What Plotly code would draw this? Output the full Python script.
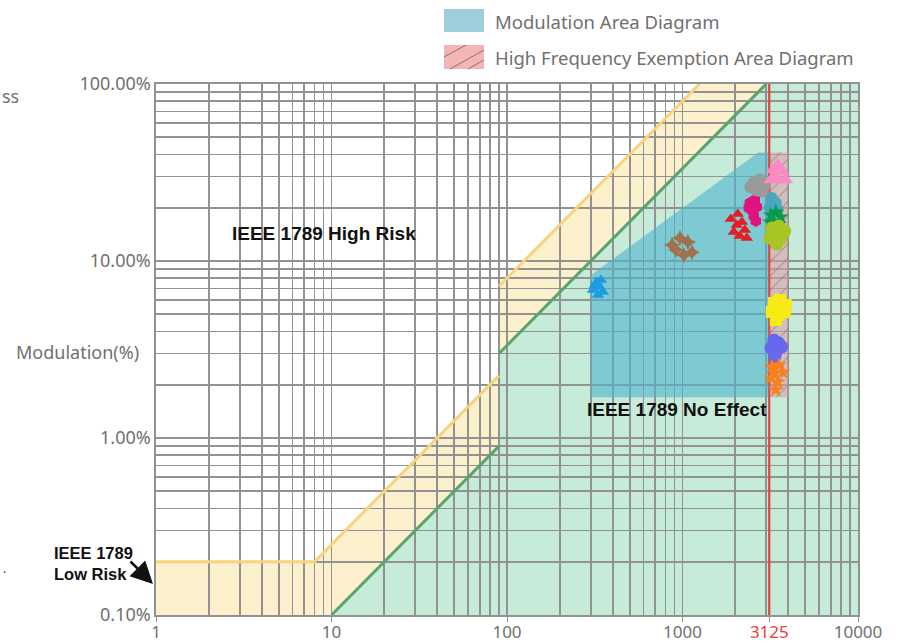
import plotly.graph_objects as go

# ---------------- data ----------------
# IEEE 1789 boundaries (frequency in Hz, modulation in %)
low_risk_freq = [1, 8, 90, 90, 1250]
low_risk_mod = [0.2, 0.2, 2.25, 7.2, 100]
no_effect_freq = [10, 90, 90, 3000]
no_effect_mod = [0.1, 0.9, 3.0, 100]

exempt_freq = 3125  # high-frequency exemption threshold

# Modulation area diagram (blue) and HF exemption area (hatched)
mod_area_freq = [300, 3125, 3125, 2700, 300]
mod_area_mod = [1.7, 1.7, 41, 41, 8.3]
hf_area_freq = [3125, 4000, 4000, 3125]
hf_area_mod = [1.7, 1.7, 41, 41]

# measured samples (frequency Hz, modulation %)
blue_freq = [309, 325, 338, 352, 330, 317, 343]
blue_mod = [6.86, 7.61, 7.13, 6.68, 6.43, 7.32, 7.81]
brown_freq = [871, 918, 967, 1019, 1074, 1132]
brown_mod = [12.3, 11.54, 13.49, 10.81, 12.8, 11.2]
red_freq = [1885, 2039, 2178, 2266, 2121, 1960, 2325, 2065]
red_mod = [17.28, 15.97, 16.6, 14.97, 13.84, 14.58, 13.49, 18.43]
magenta_freq = [2418, 2582, 2482, 2651, 2548, 2616, 2387]
magenta_mod = [21.27, 22.11, 19.42, 20.19, 17.96, 16.83, 19.93]
gray_freq = [2548, 2757, 2943, 2651, 2867, 2450, 2757]
gray_mod = [27.59, 28.68, 27.23, 25.18, 24.86, 26.19, 26.53]
pink_freq = [3269, 3491, 3727, 3401, 3877, 3185]
pink_mod = [32.67, 34.86, 31.83, 29.44, 28.68, 28.68]
teal_freq = [3227, 3401, 3144, 3491, 3313]
teal_mod = [22.69, 21.27, 20.19, 19.42, 18.92]
green_freq = [3185, 3401, 3631, 3313, 3538, 3144]
green_mod = [18.19, 18.92, 17.73, 16.83, 16.18, 16.6]
lime_freq = [3227, 3538, 3826, 3313, 3631, 3144, 3445]
lime_mod = [15.36, 15.76, 14.77, 13.84, 13.31, 13.49, 12.47]
yellow_freq = [3313, 3583, 3877, 3227, 3538, 3826, 3401]
yellow_mod = [5.79, 6.02, 5.64, 5.15, 4.95, 5.15, 4.64]
purple_freq = [3313, 3538, 3185, 3445, 3679, 3357]
purple_mod = [3.58, 3.44, 3.23, 3.10, 3.27, 2.87]
orange_freq = [3227, 3538, 3357, 3727, 3185, 3491, 3401]
orange_mod = [2.52, 2.58, 2.33, 2.36, 2.18, 2.07, 1.87]

x_tick_vals = [1, 10, 100, 1000, 3125, 10000]
x_tick_text = ["1", "10", "100", "1000",
               '<span style="color:#e8413c">3125</span>', "10000"]
y_tick_vals = [0.1, 1, 10, 100]
y_tick_text = ["0.10%", "1.00%", "10.00%", "100.00%"]

# ---------------- figure ----------------
W, H = 901, 643
ML, MR, MT, MB = 156, 43, 84, 28
PW, PH = W - ML - MR, H - MT - MB


def px(x):
    return (x - ML) / PW


def py(y):
    return (H - MB - y) / PH


def path(xs, ys):
    return "M" + "L".join(f"{x},{y}" for x, y in zip(xs, ys)) + "Z"


fig = go.Figure()

# background zones as shapes below the grid
yellow_x = [0.9, 0.9] + low_risk_freq + [10000, 10000]
yellow_y = [0.09, 0.2] + low_risk_mod + [100, 0.09]
green_x = no_effect_freq + [10000, 10000, 10]
green_y = no_effect_mod + [100, 0.09, 0.09]

shapes = [
    dict(type="path", xref="x", yref="y", layer="below",
         path=path(yellow_x, yellow_y), fillcolor="#fdf0cd", line_width=0),
    dict(type="path", xref="x", yref="y", layer="below",
         path=path(green_x, green_y), fillcolor="#c6ecd9", line_width=0),
]

# legend swatches (paper coords)
shapes.append(dict(type="rect", xref="paper", yref="paper",
                   x0=px(444), x1=px(484), y0=py(32), y1=py(9),
                   fillcolor="#9ccedb", line_width=0))
shapes.append(dict(type="rect", xref="paper", yref="paper",
                   x0=px(444), x1=px(484), y0=py(69), y1=py(45),
                   fillcolor="#f4b5b5", line_width=0))
for (a, b, c, d) in [(444, 57, 466, 45), (450, 69, 484, 50), (468, 69, 484, 60)]:
    shapes.append(dict(type="line", xref="paper", yref="paper",
                       x0=px(a), y0=py(b), x1=px(c), y1=py(d),
                       line=dict(color="#777777", width=1)))

# modulation area
fig.add_trace(go.Scatter(x=mod_area_freq, y=mod_area_mod, fill="toself", mode="none",
                         fillcolor="rgba(80,180,205,0.62)", hoverinfo="skip"))
# HF exemption hatched area
fig.add_trace(go.Scatter(x=hf_area_freq, y=hf_area_mod, fill="toself", mode="none",
                         fillcolor="rgba(222,150,165,0.55)",
                         fillpattern=dict(shape="/", bgcolor="rgba(222,150,165,0.55)",
                                          fgcolor="#6a6a6a", size=10, solidity=0.1),
                         hoverinfo="skip"))

# boundary lines
ly_x = low_risk_freq[:3] + [None] + low_risk_freq[3:]
ly_y = low_risk_mod[:3] + [None] + low_risk_mod[3:]
fig.add_trace(go.Scatter(x=ly_x, y=ly_y, mode="lines",
                         line=dict(color="#f7d37c", width=3), connectgaps=False))
ne_x = no_effect_freq[:2] + [None] + no_effect_freq[2:]
ne_y = no_effect_mod[:2] + [None] + no_effect_mod[2:]
fig.add_trace(go.Scatter(x=ne_x, y=ne_y, mode="lines",
                         line=dict(color="#5ba46e", width=3), connectgaps=False))
fig.add_trace(go.Scatter(x=[exempt_freq, exempt_freq], y=[0.1, 100], mode="lines",
                         line=dict(color="#e8413c", width=2)))

series = [
    (blue_freq, blue_mod, "#1a9de2", "triangle-up", 11),
    (brown_freq, brown_mod, "#a0714f", "star-diamond", 12),
    (red_freq, red_mod, "#e31e24", "triangle-up", 11),
    (magenta_freq, magenta_mod, "#e0137f", "hexagon", 12),
    (gray_freq, gray_mod, "#9a9a9a", "circle", 13),
    (pink_freq, pink_mod, "#ff88c4", "triangle-up", 13),
    (teal_freq, teal_mod, "#4aa8bc", "circle", 12),
    (green_freq, green_mod, "#0a9a4c", "star", 12),
    (lime_freq, lime_mod, "#a8c623", "circle", 13),
    (yellow_freq, yellow_mod, "#f6eb14", "square", 12),
    (purple_freq, purple_mod, "#6868ee", "circle", 13),
    (orange_freq, orange_mod, "#f7811e", "star", 12),
]
for fx, my, col, sym, sz in series:
    fig.add_trace(go.Scatter(x=fx, y=my, mode="markers", hoverinfo="skip",
                             marker=dict(color=col, symbol=sym, size=sz,
                                         line=dict(width=0))))

grid_col = "#929292"
x_minor = [k * 10 ** d for d in range(0, 4) for k in range(2, 10)]
y_minor = [k * 10 ** d for d in range(-1, 2) for k in range(2, 10)]

fig.update_xaxes(type="log", range=[0, 4], tickmode="array",
                 tickvals=x_tick_vals, ticktext=x_tick_text, automargin=False,
                 showgrid=True, gridcolor=grid_col, gridwidth=1.7,
                 minor=dict(tickmode="array", tickvals=x_minor, showgrid=True,
                            gridcolor=grid_col, gridwidth=1.7, ticks=""),
                 ticks="outside", ticklen=5, tickcolor=grid_col,
                 ticklabelstandoff=-4,
                 showline=True, linecolor=grid_col, linewidth=1.7, mirror=True,
                 zeroline=False,
                 tickfont=dict(family="Noto Sans", size=17, color="#707070"))
fig.update_yaxes(type="log", range=[-1, 2], tickmode="array",
                 tickvals=y_tick_vals, ticktext=y_tick_text, automargin=False,
                 showgrid=True, gridcolor=grid_col, gridwidth=1.7,
                 minor=dict(tickmode="array", tickvals=y_minor, showgrid=True,
                            gridcolor=grid_col, gridwidth=1.7, ticks=""),
                 ticks="", showline=True, linecolor=grid_col, linewidth=1.7,
                 mirror=True, zeroline=False,
                 tickfont=dict(family="Noto Sans", size=18, color="#707070"))

gray_font = dict(family="Noto Sans", size=18, color="#707070")
bold_font = dict(family="Liberation Sans", size=19, color="#111111")
annotations = [
    dict(text="<b>IEEE 1789 High Risk</b>", x=px(324), y=py(234),
         xref="paper", yref="paper", showarrow=False, xanchor="center",
         yanchor="middle", font=bold_font),
    dict(text="<b>IEEE 1789 No Effect</b>", x=px(677), y=py(409),
         xref="paper", yref="paper", showarrow=False, xanchor="center",
         yanchor="middle", font=bold_font),
    dict(text="<b>IEEE 1789<br>Low Risk</b>", x=px(52), y=py(563),
         xref="paper", yref="paper", showarrow=False, xanchor="left",
         yanchor="middle", align="left",
         font=dict(family="Liberation Sans", size=16.5, color="#111111")),
    dict(text="", x=px(153), y=py(584), xref="paper", yref="paper",
         showarrow=True, ax=-24, ay=-24, arrowhead=2, arrowsize=1.7,
         arrowwidth=2.6, arrowcolor="#111111"),
    dict(text="Modulation(%)", x=px(141), y=py(352), xref="paper", yref="paper",
         showarrow=False, xanchor="right", yanchor="middle", font=gray_font),
    dict(text="ss", x=px(0), y=py(96), xref="paper", yref="paper",
         showarrow=False, xanchor="left", yanchor="middle", font=gray_font),
    dict(text=".", x=px(1), y=py(568), xref="paper", yref="paper",
         showarrow=False, xanchor="left", yanchor="middle",
         font=dict(family="Noto Sans", size=12, color="#444444")),
    dict(text="Modulation Area Diagram", x=px(493), y=py(21), xref="paper",
         yref="paper", showarrow=False, xanchor="left", yanchor="middle",
         font=dict(family="Noto Sans", size=18.5, color="#707070")),
    dict(text="High Frequency Exemption Area Diagram", x=px(493), y=py(58),
         xref="paper", yref="paper", showarrow=False, xanchor="left",
         yanchor="middle",
         font=dict(family="Noto Sans", size=18.5, color="#707070")),
]

fig.update_layout(width=W, height=H,
                  margin=dict(l=ML, r=MR, t=MT, b=MB, autoexpand=False),
                  plot_bgcolor="white", paper_bgcolor="white",
                  showlegend=False, hovermode=False,
                  shapes=shapes, annotations=annotations)

fig.write_html("out.html",
               config={"displayModeBar": False, "staticPlot": True},
               post_script="document.body.style.margin='0';"
                           "document.body.style.overflow='hidden';")
